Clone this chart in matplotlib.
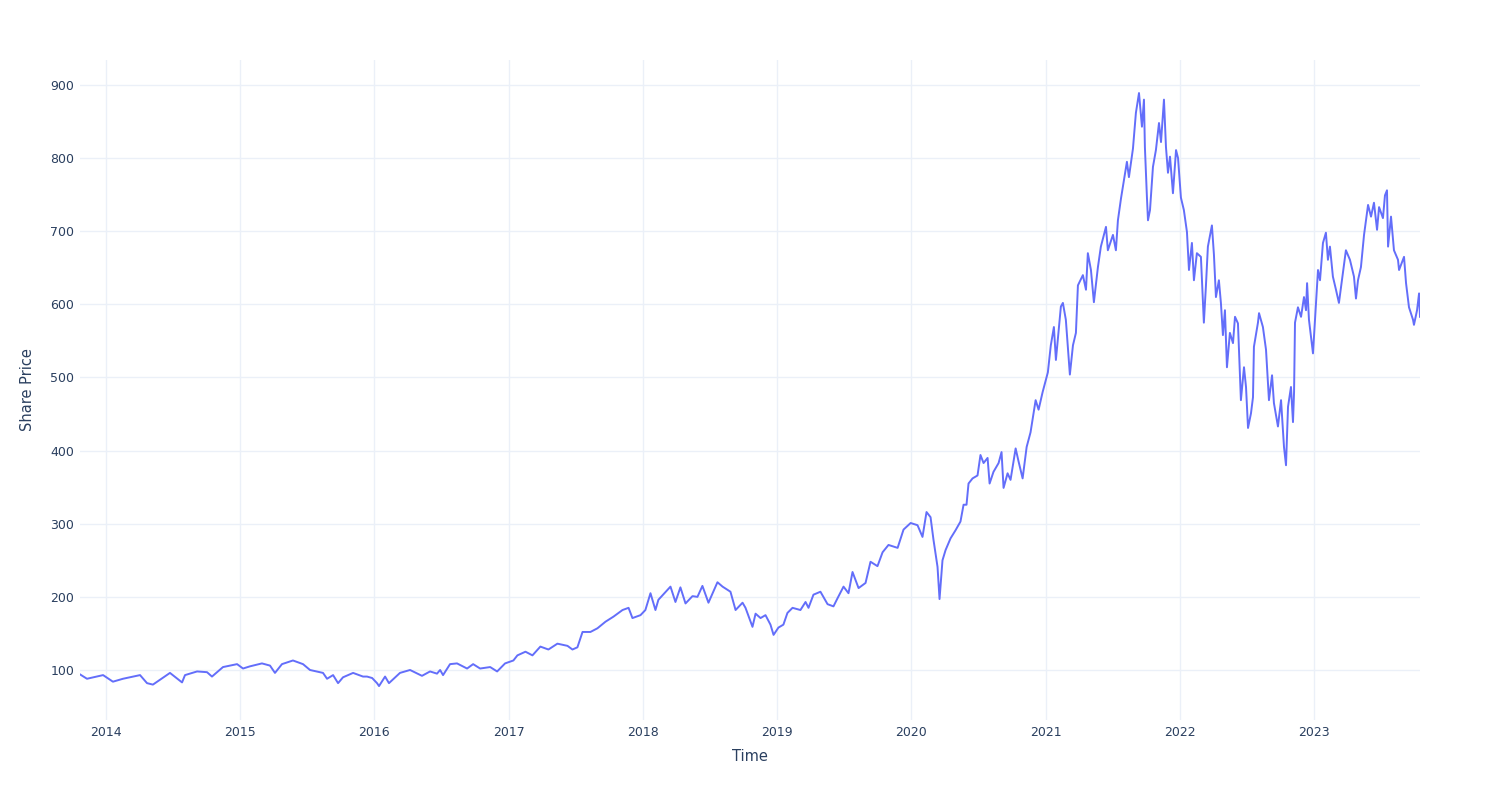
import matplotlib
matplotlib.use("Agg")
import matplotlib.pyplot as plt
import matplotlib.dates as mdates
import pandas as pd

# decimal-year time stamps
years = [
 2013.806, 2013.858, 2013.978, 2014.052, 2014.127, 2014.254, 2014.306, 2014.350, 2014.477, 2014.567,
 2014.589, 2014.679, 2014.753, 2014.790, 2014.872, 2014.977, 2015.022, 2015.074, 2015.163, 2015.223,
 2015.260, 2015.312, 2015.394, 2015.469, 2015.521, 2015.618, 2015.648, 2015.693, 2015.730, 2015.767,
 2015.842, 2015.916, 2015.946, 2015.984, 2016.021, 2016.036, 2016.081, 2016.110, 2016.192, 2016.267,
 2016.356, 2016.416, 2016.468, 2016.491, 2016.513, 2016.565, 2016.617, 2016.692, 2016.737, 2016.789,
 2016.864, 2016.916, 2016.975, 2017.035, 2017.065, 2017.125, 2017.177, 2017.236, 2017.296, 2017.363,
 2017.438, 2017.475, 2017.512, 2017.550, 2017.609, 2017.661, 2017.721, 2017.781, 2017.848, 2017.893,
 2017.922, 2017.982, 2018.019, 2018.057, 2018.094, 2018.116, 2018.206, 2018.243, 2018.280, 2018.318,
 2018.370, 2018.407, 2018.444, 2018.489, 2018.556, 2018.594, 2018.653, 2018.691, 2018.743, 2018.765,
 2018.817, 2018.840, 2018.877, 2018.914, 2018.951, 2018.974, 2019.011, 2019.048, 2019.078, 2019.116,
 2019.175, 2019.213, 2019.235, 2019.272, 2019.324, 2019.377, 2019.421, 2019.451, 2019.496, 2019.533,
 2019.563, 2019.608, 2019.660, 2019.697, 2019.749, 2019.787, 2019.831, 2019.899, 2019.943, 2019.996,
 2020.048, 2020.085, 2020.115, 2020.145, 2020.167, 2020.197, 2020.212, 2020.234, 2020.257, 2020.294,
 2020.331, 2020.368, 2020.391, 2020.413, 2020.428, 2020.458, 2020.495, 2020.517, 2020.540, 2020.570,
 2020.585, 2020.614, 2020.652, 2020.674, 2020.689, 2020.719, 2020.741, 2020.779, 2020.801, 2020.831,
 2020.861, 2020.890, 2020.928, 2020.950, 2020.980, 2021.017, 2021.039, 2021.062, 2021.077, 2021.114,
 2021.129, 2021.151, 2021.181, 2021.204, 2021.226, 2021.241, 2021.278, 2021.301, 2021.315, 2021.338,
 2021.360, 2021.390, 2021.412, 2021.450, 2021.464, 2021.502, 2021.524, 2021.539, 2021.562, 2021.584,
 2021.606, 2021.621, 2021.651, 2021.673, 2021.696, 2021.718, 2021.733, 2021.740, 2021.755, 2021.763,
 2021.778, 2021.800, 2021.822, 2021.845, 2021.860, 2021.882, 2021.897, 2021.912, 2021.927, 2021.949,
 2021.972, 2021.987, 2022.009, 2022.031, 2022.054, 2022.069, 2022.091, 2022.106, 2022.128, 2022.158,
 2022.180, 2022.195, 2022.210, 2022.240, 2022.255, 2022.270, 2022.292, 2022.307, 2022.322, 2022.337,
 2022.352, 2022.374, 2022.397, 2022.412, 2022.434, 2022.456, 2022.479, 2022.494, 2022.509, 2022.531,
 2022.546, 2022.553, 2022.583, 2022.591, 2022.620, 2022.643, 2022.665, 2022.688, 2022.702, 2022.732,
 2022.755, 2022.777, 2022.792, 2022.807, 2022.829, 2022.844, 2022.852, 2022.859, 2022.881, 2022.904,
 2022.926, 2022.941, 2022.949, 2022.963, 2022.993, 2023.016, 2023.031, 2023.046, 2023.068, 2023.090,
 2023.105, 2023.120, 2023.142, 2023.165, 2023.187, 2023.217, 2023.239, 2023.269, 2023.299, 2023.314,
 2023.329, 2023.351, 2023.374, 2023.404, 2023.426, 2023.448, 2023.471, 2023.486, 2023.515, 2023.530,
 2023.545, 2023.553, 2023.575, 2023.597, 2023.627, 2023.635, 2023.672, 2023.687, 2023.709, 2023.739,
 2023.746, 2023.769, 2023.784, 2023.791,
]

share_price = [
 94, 88, 93, 84, 88, 93, 82, 80, 96, 83,
 93, 98, 97, 91, 104, 108, 102, 105, 109, 106,
 96, 108, 113, 108, 100, 96, 88, 93, 82, 90,
 96, 91, 91, 89, 82, 78, 91, 82, 96, 100,
 92, 98, 95, 100, 93, 108, 109, 102, 108, 102,
 104, 98, 109, 113, 120, 125, 120, 132, 128, 136,
 133, 128, 131, 152, 152, 157, 166, 173, 182, 185,
 171, 175, 182, 205, 182, 196, 214, 193, 213, 191,
 201, 200, 215, 192, 220, 214, 207, 182, 192, 185,
 159, 177, 171, 175, 162, 148, 158, 162, 178, 185,
 182, 193, 185, 203, 207, 190, 187, 198, 214, 205,
 234, 212, 219, 248, 242, 261, 271, 267, 292, 301,
 298, 282, 316, 309, 278, 241, 197, 250, 264, 280,
 291, 303, 326, 326, 355, 362, 366, 394, 383, 390,
 355, 371, 383, 398, 349, 369, 360, 403, 385, 362,
 405, 425, 469, 456, 480, 507, 544, 569, 524, 597,
 602, 579, 504, 544, 561, 626, 640, 620, 670, 647,
 603, 651, 679, 706, 674, 695, 674, 715, 745, 770,
 795, 774, 813, 862, 889, 843, 880, 815, 747, 715,
 729, 788, 811, 848, 822, 880, 815, 780, 802, 752,
 811, 800, 746, 729, 699, 647, 684, 633, 670, 665,
 575, 624, 679, 708, 668, 610, 633, 602, 558, 592,
 514, 561, 547, 583, 574, 469, 514, 487, 431, 451,
 473, 542, 575, 588, 569, 538, 469, 503, 465, 433,
 469, 405, 380, 460, 487, 439, 480, 575, 596, 583,
 610, 592, 629, 579, 533, 600, 647, 633, 684, 698,
 661, 679, 638, 620, 602, 643, 674, 661, 638, 608,
 633, 651, 695, 736, 720, 739, 702, 733, 718, 749,
 756, 679, 720, 674, 661, 647, 665, 629, 596, 579,
 572, 592, 615, 583,
]

year_ticks = [2014, 2015, 2016, 2017, 2018, 2019, 2020, 2021, 2022, 2023]
price_ticks = [100, 200, 300, 400, 500, 600, 700, 800, 900]


def to_date(y):
    base = pd.Timestamp(year=int(y), month=1, day=1)
    return base + pd.Timedelta(days=(y - int(y)) * 365.25)


dates = [to_date(y) for y in years]

plt.rcParams['font.family'] = ['DejaVu Sans']
text_color = '#2a3f5f'
grid_color = '#EBF0F8'

fig = plt.figure(figsize=(15, 8), dpi=100)
ax = fig.add_axes([80 / 1500, 1 - 720 / 800, 1340 / 1500, 660 / 800])

ax.plot(dates, share_price, color='#636EFA', lw=1.4, solid_joinstyle='round')

ax.set_xlim(dates[0], dates[-1])
ax.set_ylim(31.6, 934.2)

ax.set_xticks([pd.Timestamp(year=y, month=1, day=1) for y in year_ticks])
ax.xaxis.set_major_formatter(mdates.DateFormatter('%Y'))
ax.set_yticks(price_ticks)

ax.grid(True, color=grid_color, lw=1)
ax.set_axisbelow(True)
for s in ax.spines.values():
    s.set_visible(False)
ax.tick_params(axis='both', length=0, labelsize=9, colors=text_color)
ax.tick_params(axis='x', pad=4)
ax.tick_params(axis='y', pad=4)

ax.set_xlabel('Time', fontsize=10.5, color=text_color, labelpad=7.5)
ax.set_ylabel('Share Price', fontsize=10.5, color=text_color, labelpad=11)

fig.savefig('out.png', dpi=100, facecolor='white')
